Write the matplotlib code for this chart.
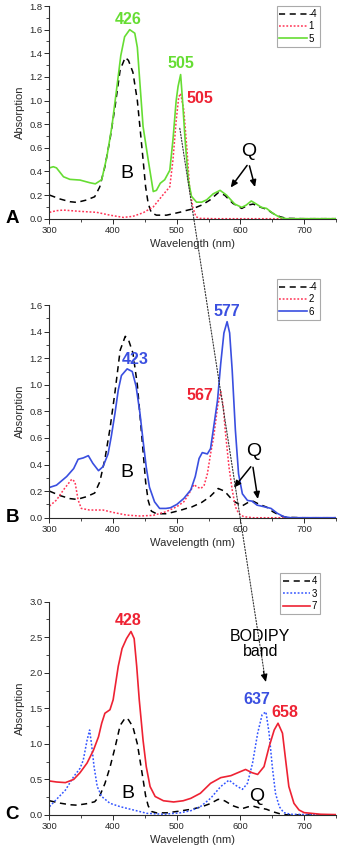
import matplotlib
matplotlib.use("Agg")
import matplotlib.pyplot as plt
from matplotlib.ticker import MultipleLocator

plt.rcParams['font.family'] = ['Liberation Sans', 'DejaVu Sans']

# ---- data ----
# compound -4 (black dashed, same trace in all three panels)
x_m4 = [300, 317, 332, 343, 358, 371, 379, 387, 395, 403, 411, 419, 424, 431, 438, 442, 447, 451,
        455, 460, 468, 484, 505, 515, 523, 539, 552, 565, 575, 588, 602, 612, 620, 630, 641, 651,
        662, 672, 700, 750]
y_m4 = [0.20, 0.166, 0.144, 0.138, 0.158, 0.186, 0.27, 0.44, 0.67, 0.95, 1.26, 1.365, 1.34, 1.24,
        1.0, 0.78, 0.50, 0.27, 0.13, 0.05, 0.03, 0.03, 0.055, 0.07, 0.08, 0.115, 0.158, 0.22, 0.20,
        0.13, 0.087, 0.115, 0.124, 0.10, 0.08, 0.045, 0.017, 0.003, 0.0, 0.0]

# compound 1 (red dotted, panel A)
x_1 = [300, 311, 322, 348, 374, 395, 416, 431, 447, 463, 478, 489, 494, 499, 503, 506, 511, 516,
       520, 525, 530, 536, 560, 750]
y_1 = [0.054, 0.068, 0.073, 0.062, 0.054, 0.03, 0.011, 0.02, 0.05, 0.10, 0.20, 0.27, 0.50, 0.83,
       1.03, 1.06, 0.92, 0.58, 0.27, 0.10, 0.017, 0.003, 0.0, 0.0]

# compound 5 (green solid, panel A)
x_5 = [300, 306, 311, 322, 332, 348, 363, 372, 382, 390, 398, 406, 412, 418, 426, 434, 438, 442,
       447, 455, 463, 468, 474, 481, 489, 494, 499, 502, 506, 509, 513, 518, 523, 531, 539, 547,
       557, 568, 578, 591, 602, 609, 617, 625, 633, 641, 651, 662, 672, 700, 750]
y_5 = [0.43, 0.44, 0.43, 0.355, 0.333, 0.327, 0.305, 0.295, 0.33, 0.52, 0.78, 1.12, 1.38, 1.54,
       1.60, 1.57, 1.45, 1.15, 0.78, 0.50, 0.23, 0.24, 0.30, 0.33, 0.41, 0.67, 1.0, 1.12, 1.22,
       1.0, 0.67, 0.33, 0.19, 0.14, 0.14, 0.16, 0.21, 0.24, 0.20, 0.124, 0.096, 0.115, 0.15,
       0.124, 0.096, 0.087, 0.045, 0.011, 0.0, 0.0, 0.0]

# compound 2 (red dotted, panel B)
x_2 = [300, 311, 322, 335, 340, 345, 350, 363, 384, 400, 421, 442, 463, 483, 500, 511, 519, 527,
       532, 538, 543, 548, 553, 558, 564, 569, 573, 576, 582, 587, 592, 597, 605, 620, 750]
y_2 = [0.088, 0.133, 0.21, 0.29, 0.27, 0.133, 0.07, 0.058, 0.058, 0.04, 0.02, 0.013, 0.018,
       0.045, 0.083, 0.12, 0.18, 0.25, 0.23, 0.22, 0.245, 0.33, 0.48, 0.61, 0.835, 0.95, 0.835,
       0.66, 0.38, 0.21, 0.083, 0.033, 0.008, 0.0, 0.0]

# compound 6 (blue solid, panel B)
x_6 = [300, 311, 327, 338, 345, 353, 361, 368, 377, 384, 392, 397, 403, 408, 413, 422, 430, 436,
       442, 447, 452, 457, 465, 473, 483, 490, 500, 511, 522, 529, 535, 540, 548, 553, 558, 564,
       569, 574, 579, 583, 587, 592, 597, 603, 611, 618, 626, 637, 648, 658, 668, 679, 750]
y_6 = [0.228, 0.245, 0.31, 0.37, 0.44, 0.45, 0.467, 0.41, 0.354, 0.384, 0.48, 0.61, 0.79, 0.96,
       1.07, 1.12, 1.10, 0.99, 0.79, 0.58, 0.38, 0.23, 0.12, 0.07, 0.07, 0.075, 0.10, 0.145, 0.21,
       0.31, 0.446, 0.49, 0.48, 0.52, 0.685, 0.885, 1.16, 1.39, 1.475, 1.39, 1.11, 0.66, 0.33,
       0.18, 0.13, 0.125, 0.095, 0.083, 0.07, 0.033, 0.008, 0.0, 0.0]

# compound 3 (blue dotted, panel C)
x_3 = [300, 311, 325, 338, 348, 353, 359, 363, 366, 370, 375, 382, 395, 411, 432, 453, 479, 505,
       522, 537, 553, 569, 582, 592, 603, 611, 619, 627, 634, 640, 645, 650, 655, 661, 668, 679,
       750]
y_3 = [0.117, 0.22, 0.35, 0.54, 0.656, 0.77, 1.05, 1.195, 1.0, 0.68, 0.40, 0.26, 0.164, 0.117,
       0.07, 0.023, 0.01, 0.03, 0.06, 0.117, 0.234, 0.40, 0.49, 0.42, 0.36, 0.445, 0.73, 1.15,
       1.41, 1.45, 1.15, 0.68, 0.305, 0.117, 0.033, 0.01, 0.0]

# compound 7 (red solid, panel C)
x_7 = [300, 311, 325, 338, 348, 359, 369, 377, 382, 387, 395, 400, 408, 414, 421, 428, 433, 437,
       441, 447, 452, 458, 466, 479, 495, 510, 522, 537, 553, 569, 585, 596, 608, 618, 627, 637,
       645, 653, 659, 666, 671, 676, 684, 692, 700, 726, 750]
y_7 = [0.478, 0.464, 0.455, 0.50, 0.595, 0.73, 0.91, 1.10, 1.29, 1.43, 1.48, 1.62, 2.09, 2.34,
       2.48, 2.58, 2.48, 2.09, 1.62, 1.05, 0.68, 0.40, 0.26, 0.20, 0.183, 0.20, 0.234, 0.305,
       0.445, 0.525, 0.553, 0.595, 0.64, 0.595, 0.57, 0.68, 0.96, 1.195, 1.29, 1.15, 0.77, 0.40,
       0.164, 0.07, 0.033, 0.01, 0.005]

GREEN = '#66dd33'
RED = '#ee2233'
RED_DOT = '#ff3355'
BLUE = '#3a4fe0'
BLUE_DOT = '#3355ff'
AXC = '#2a2a2a'

fig = plt.figure(figsize=(3.39, 8.5), dpi=100)
L, W = 0.146, 0.845
axA = fig.add_axes([L, 0.7427, W, 0.2502])
axB = fig.add_axes([L, 0.3909, W, 0.2502])
axC = fig.add_axes([L, 0.0412, W, 0.2510])

dash = (0, (4, 3))
dot = (0, (1.2, 1.2))


def style(ax, ytop, ymaj):
    ax.set_xlim(300, 750)
    ax.set_ylim(0, ytop)
    for s in ['top', 'right']:
        ax.spines[s].set_visible(False)
    for s in ['left', 'bottom']:
        ax.spines[s].set_color(AXC)
        ax.spines[s].set_linewidth(0.8)
    ax.xaxis.set_major_locator(MultipleLocator(100))
    ax.xaxis.set_minor_locator(MultipleLocator(50))
    ax.yaxis.set_major_locator(MultipleLocator(ymaj))
    ax.yaxis.set_minor_locator(MultipleLocator(ymaj / 2))
    ax.tick_params(which='major', direction='out', length=3.5, width=0.7, colors=AXC,
                   labelsize=6.8, pad=1.5)
    ax.tick_params(which='minor', direction='out', length=2, width=0.6, colors=AXC)
    ax.set_xticks([300, 400, 500, 600, 700])
    ax.set_xlabel('Wavelength (nm)', fontsize=8, color=AXC, labelpad=3)
    ax.set_ylabel('Absorption', fontsize=8, color=AXC, labelpad=3)


def legend(ax, top):
    lg = ax.legend(loc='upper right', bbox_to_anchor=(0.945, top), fontsize=7,
                   handlelength=2.8, handletextpad=0.2, borderpad=0.3, labelspacing=0.25,
                   borderaxespad=0, fancybox=False, framealpha=1)
    lg.get_frame().set_edgecolor('#aaaaaa')
    lg.get_frame().set_linewidth(0.8)


# ---- panel A ----
axA.plot(x_m4, y_m4, color='black', ls=dash, lw=1.1, label='-4')
axA.plot(x_1, y_1, color=RED_DOT, ls=dot, lw=1.1, label='1')
axA.plot(x_5, y_5, color=GREEN, lw=1.2, label='5')
style(axA, 1.8, 0.2)
legend(axA, 1.0)
axA.text(424, 1.69, '426', color=GREEN, fontsize=11.5, fontweight='bold', ha='center', va='center')
axA.text(506, 1.31, '505', color=GREEN, fontsize=11.5, fontweight='bold', ha='center', va='center')
axA.text(536, 1.02, '505', color=RED, fontsize=11.5, fontweight='bold', ha='center', va='center')
axA.text(421, 0.38, 'B', fontsize=14, ha='center', va='center')
axA.text(613, 0.57, 'Q', fontsize=14, ha='center', va='center')
for tx in (582, 624):
    axA.annotate('', xy=(tx, 0.245), xytext=(613, 0.47),
                 arrowprops=dict(arrowstyle='-|>,head_length=0.4,head_width=0.18',
                                 color='black', lw=1.1))

# ---- panel B ----
axB.plot(x_m4, y_m4, color='black', ls=dash, lw=1.1, label='-4')
axB.plot(x_2, y_2, color=RED_DOT, ls=dot, lw=1.1, label='2')
axB.plot(x_6, y_6, color=BLUE, lw=1.2, label='6')
style(axB, 1.6, 0.2)
legend(axB, 1.122)
axB.text(435, 1.19, '423', color=BLUE, fontsize=11.5, fontweight='bold', ha='center', va='center')
axB.text(579, 1.55, '577', color=BLUE, fontsize=11.5, fontweight='bold', ha='center', va='center')
axB.text(537, 0.92, '567', color=RED, fontsize=11.5, fontweight='bold', ha='center', va='center')
axB.text(421, 0.34, 'B', fontsize=14, ha='center', va='center')
axB.text(621, 0.50, 'Q', fontsize=14, ha='center', va='center')
for tx, ty in ((587, 0.21), (628, 0.12)):
    axB.annotate('', xy=(tx, ty), xytext=(619, 0.40),
                 arrowprops=dict(arrowstyle='-|>,head_length=0.4,head_width=0.18',
                                 color='black', lw=1.1))

# ---- panel C ----
axC.plot(x_m4, y_m4, color='black', ls=dash, lw=1.1, label='4')
axC.plot(x_3, y_3, color=BLUE_DOT, ls=dot, lw=1.1, label='3')
axC.plot(x_7, y_7, color=RED, lw=1.2, label='7')
style(axC, 3.0, 0.5)
legend(axC, 1.133)
axC.text(423, 2.74, '428', color=RED, fontsize=11.5, fontweight='bold', ha='center', va='center')
axC.text(625, 1.63, '637', color=BLUE, fontsize=11.5, fontweight='bold', ha='center', va='center')
axC.text(670, 1.44, '658', color=RED, fontsize=11.5, fontweight='bold', ha='center', va='center')
axC.text(423, 0.30, 'B', fontsize=14, ha='center', va='center')
axC.text(625, 0.26, 'Q', fontsize=14, ha='center', va='center')
axC.text(631, 2.40, 'BODIPY\nband', fontsize=11.5, ha='center', va='center', linespacing=1.0,
         zorder=10)

# long dotted guide from the 505 band in A down to the BODIPY band in C
axC.annotate('', xy=(639, 1.90), xytext=(504.7, 0.765), textcoords=axA.transData,
             arrowprops=dict(arrowstyle='-', color='#333333', lw=0.8, ls=(0, (1.2, 1.5)),
                             shrinkA=0, shrinkB=0), annotation_clip=False)
axC.annotate('', xy=(640, 1.87), xytext=(636, 2.02),
             arrowprops=dict(arrowstyle='-|>,head_length=0.45,head_width=0.2', color='black',
                             lw=0.8, shrinkA=0, shrinkB=0))

# panel letters
for ax, lab in ((axA, 'A'), (axB, 'B'), (axC, 'C')):
    ax.text(-0.13, 0.0, lab, transform=ax.transAxes, fontsize=13.5, fontweight='bold',
            ha='center', va='center')

fig.savefig('out.png', dpi=100)
